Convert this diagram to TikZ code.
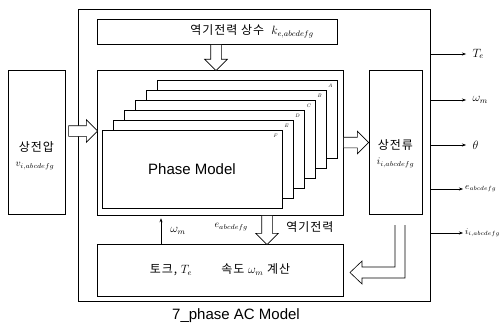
\documentclass[tikz,border=0pt]{standalone}
\usepackage{fontspec}
\setsansfont{Liberation Sans}
\newfontfamily\kor[LetterSpace=8]{Noto Sans CJK KR}
\usetikzlibrary{arrows.meta,shapes.arrows,calc}

\tikzset{
  box/.style={draw,line width=0.6pt,inner sep=0pt},
  page/.style={draw,fill=white,line width=0.7pt,minimum width=180pt,minimum height=78pt,inner sep=0pt},
  hollow/.style={single arrow,draw,fill=white,line width=0.6pt,inner xsep=0pt,inner ysep=5pt,single arrow head extend=6pt},
  sig/.style={-{Stealth[length=4pt,width=3pt]},line width=0.5pt},
  ktext/.style={font=\kor\fontsize{12}{14}\selectfont},
  mtext/.style={font=\fontsize{12}{14}\selectfont},
  stext/.style={font=\fontsize{10}{12}\selectfont},
}

\begin{document}
\begin{tikzpicture}[x=1pt,y=-1pt]
\useasboundingbox (0,0) rectangle (502,329);
% frame of the whole model
\node[box,minimum width=352pt,minimum height=292pt] (model) at (254,155) {};
\node[box,minimum width=240pt,minimum height=25pt] (kbox) at (217,31.5) {};
\node[ktext,anchor=east] (ktxt) at ($(kbox.east)+(-20,0)$) {역기전력 상수 \ $k_{e,abcdefg}$};
\node[box,minimum width=246pt,minimum height=145pt] (phase) at (220,142.5) {};
% stacked phase pages
\foreach \l/\k in {A/5,B/4,C/3,D/2,E/1,F/0}{
  \node[page] (page\l) at (192+11*\k,169-10*\k) {};
  \node[font=\tiny\itshape] at ($(page\l.north east)+(-7,6)$) {\l};
}
\node[font=\sffamily\fontsize{15}{18}\selectfont] (pmodel) at (pageF.center) {Phase Model};
% input and output boxes
\node[box,minimum width=57pt,minimum height=144pt] (vbox) at (36.5,142) {};
\node[ktext] (vtxt) at (36.5,147) {상전압};
\node[stext] (vsym) at (35,166) {$v_{i,abcdefg}$};
\node[box,minimum width=53pt,minimum height=144pt] (ibox) at (395.5,142) {};
\node[ktext] (itxt) at (395.5,145) {상전류};
\node[stext] (isym) at (395.5,163) {$i_{i,abcdefg}$};
\node[box,minimum width=246pt,minimum height=52pt] (tbox) at (220,270) {};
\node[ktext] (ttxt) at (tbox.center) {토크, $T_e$ \hspace{22pt} 속도 $\omega_m$ 계산};
% hollow arrows
\node[hollow,minimum height=29pt,anchor=tail] (vin) at ($(vbox.east)+(3,-11)$) {};
\node[hollow,minimum height=25pt,anchor=tail] (iout) at (phase.east) {};
\node[hollow,minimum height=26pt,anchor=tail,rotate=-90] (kin) at ($(kbox.south)+(-1,0)$) {};
\node[hollow,minimum height=29pt,anchor=tail,rotate=-90] (ein) at ($(phase.south)+(47,0)$) {};
\draw[line width=0.6pt,fill=white] (395,225) -- (395,267) -- (362,267) -- (362,261)
  -- (350,272.5) -- (362,284) -- (362,278) -- (405,278) -- (405,225);
% feedback signals
\coordinate (wtop) at ($(phase.south)+(-59,3)$);
\draw[sig] ($(tbox.north)+(-59,0)$) -- (wtop);
\node[mtext] (wlab) at (178,231) {$\omega_m$};
\node[stext,anchor=west] (elab) at (211,227) {$e_{abcdefg}$};
\node[ktext] (bemf) at (310,227) {역기전력};
% outputs
\foreach \y/\n/\t in {54/te/T_e,100/wm/\omega_m,145/th/\theta}{
  \coordinate (out\n) at (466,\y);
  \node[mtext,anchor=west] (lab\n) at (469,\y) {$\t$};
  \draw[sig] (model.east |- out\n) -- (out\n);
}
\foreach \y/\n/\t in {189/eo/e_{abcdefg},233/io/i_{i,abcdefg}}{
  \coordinate (out\n) at (463,\y);
  \node[font=\fontsize{9}{11}\selectfont,anchor=west,inner xsep=1pt] (lab\n) at (464,\y) {$\t$};
  \draw[sig] (model.east |- out\n) -- (out\n);
}
\node[font=\sffamily\fontsize{15}{18}\selectfont] (cap) at (236,316) {7\_phase AC Model};
\end{tikzpicture}
\end{document}
